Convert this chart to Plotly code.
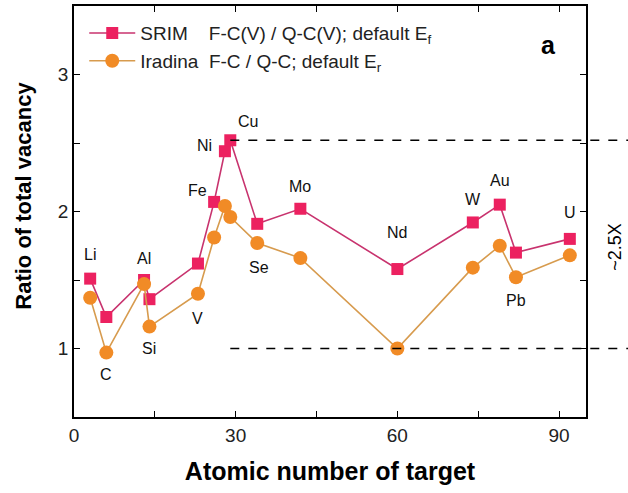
import plotly.graph_objects as go

# ---- data ----
elements = ["Li", "C", "Al", "Si", "V", "Fe", "Ni", "Cu", "Se", "Mo", "Nd", "W", "Au", "Pb", "U"]
atomic_number = [3, 6, 13, 14, 23, 26, 28, 29, 34, 42, 60, 74, 79, 82, 92]
srim_ratio = [1.51, 1.23, 1.50, 1.36, 1.62, 2.07, 2.44, 2.52, 1.91, 2.02, 1.58, 1.92, 2.05, 1.70, 1.80]
iradina_ratio = [1.37, 0.97, 1.47, 1.16, 1.40, 1.81, 2.04, 1.96, 1.77, 1.66, 1.00, 1.59, 1.75, 1.52, 1.68]

# label placement: which series the label sits next to, and pixel offset
label_ref = ["s", "i", "s", "i", "i", "s", "s", "s", "i", "s", "s", "s", "s", "i", "s"]
label_dx = [0, 0, 0, 0, 0, -17, -20, 18, 2, 0, 0, 0, 0, 0, 0]
label_dy = [24, -22, 22, -22, -25, 11, 6, 19, -24, 22, 37, 23, 24, -23, 26]

x_range = [0, 95]
y_range = [0.5, 3.5]

SRIM_MARK = "#EC2160"
SRIM_LINE = "#C8336E"
IRA_MARK = "#F18B26"
IRA_LINE = "#D79B4E"
FONT = "Liberation Sans, Arial, sans-serif"

fig = go.Figure()
fig.add_trace(go.Scatter(
    x=atomic_number, y=srim_ratio, mode="lines+markers",
    name="SRIM&nbsp;&nbsp;&nbsp; F-C(V) / Q-C(V); default E<sub>f</sub>",
    line=dict(color=SRIM_LINE, width=1.6),
    marker=dict(symbol="square", size=12, color=SRIM_MARK),
    cliponaxis=False,
))
fig.add_trace(go.Scatter(
    x=atomic_number, y=iradina_ratio, mode="lines+markers",
    name="Iradina&nbsp; F-C / Q-C; default E<sub>r</sub>",
    line=dict(color=IRA_LINE, width=1.6),
    marker=dict(symbol="circle", size=14, color=IRA_MARK),
    cliponaxis=False,
))

# element labels
for el, z, s, i, ref, dx, dy in zip(elements, atomic_number, srim_ratio, iradina_ratio,
                                    label_ref, label_dx, label_dy):
    fig.add_annotation(x=z, y=s if ref == "s" else i, text=el, showarrow=False,
                       xshift=dx, yshift=dy, font=dict(size=16, color="#111", family=FONT))

# dashed reference lines from Cu (max SRIM) and Nd (min Iradina)
cu = elements.index("Cu")
nd = elements.index("Nd")
x0_paper = (atomic_number[cu] - x_range[0]) / (x_range[1] - x_range[0])
for yv in [srim_ratio[cu], iradina_ratio[nd]]:
    fig.add_shape(type="line", xref="paper", yref="y", x0=x0_paper, x1=1.1,
                  y0=yv, y1=yv, line=dict(color="black", width=1.5, dash="dash"))

fig.add_annotation(xref="paper", yref="paper", x=0.926, y=0.905, xanchor="center", yanchor="middle",
                   text="<b>a</b>", showarrow=False, font=dict(size=25, color="black", family=FONT))
fig.add_annotation(xref="paper", yref="y", x=1.056, y=(srim_ratio[cu] + iradina_ratio[nd]) / 2 - 0.02,
                   xanchor="center", yanchor="middle",
                   text="~2.5X", textangle=-90, showarrow=False,
                   font=dict(size=18, color="black", family=FONT))
# y-axis title (placed as annotation to match the reference offset)
fig.add_annotation(xref="paper", yref="paper", x=-0.098, y=0.538, xanchor="center", yanchor="middle",
                   text="<b>Ratio of total vacancy</b>", textangle=-90, showarrow=False,
                   font=dict(size=22, color="black", family=FONT))

axis_common = dict(showline=True, linecolor="black", linewidth=1.5, mirror="ticks",
                   ticks="inside", ticklen=6, tickwidth=1.3, tickcolor="black",
                   showgrid=False, zeroline=False, automargin=False,
                   tickfont=dict(size=19, color="#222", family=FONT))

fig.update_layout(
    width=628, height=493,
    margin=dict(l=74, r=42, t=6, b=76),
    paper_bgcolor="white", plot_bgcolor="white",
    font=dict(family=FONT),
    showlegend=True,
    legend=dict(x=0.02, y=0.98, xanchor="left", yanchor="top",
                bgcolor="rgba(0,0,0,0)", font=dict(size=19, color="#222", family=FONT),
                itemwidth=46, tracegroupgap=0),
    xaxis=dict(range=x_range, tickvals=[0, 30, 60, 90],
               minor=dict(tickvals=[15, 45, 75], ticks="inside", ticklen=6, tickcolor="black", tickwidth=1.3),
               title=dict(text="<b>Atomic number of target</b>", font=dict(size=25, color="black", family=FONT),
                          standoff=18),
               **axis_common),
    yaxis=dict(range=y_range, tickvals=[1, 2, 3],
               minor=dict(tickvals=[1.5, 2.5], ticks="inside", ticklen=6, tickcolor="black", tickwidth=1.3),
               **axis_common),
)

fig.write_html("out.html", config={"displayModeBar": False},
               post_script="document.body.style.margin='0px';")
